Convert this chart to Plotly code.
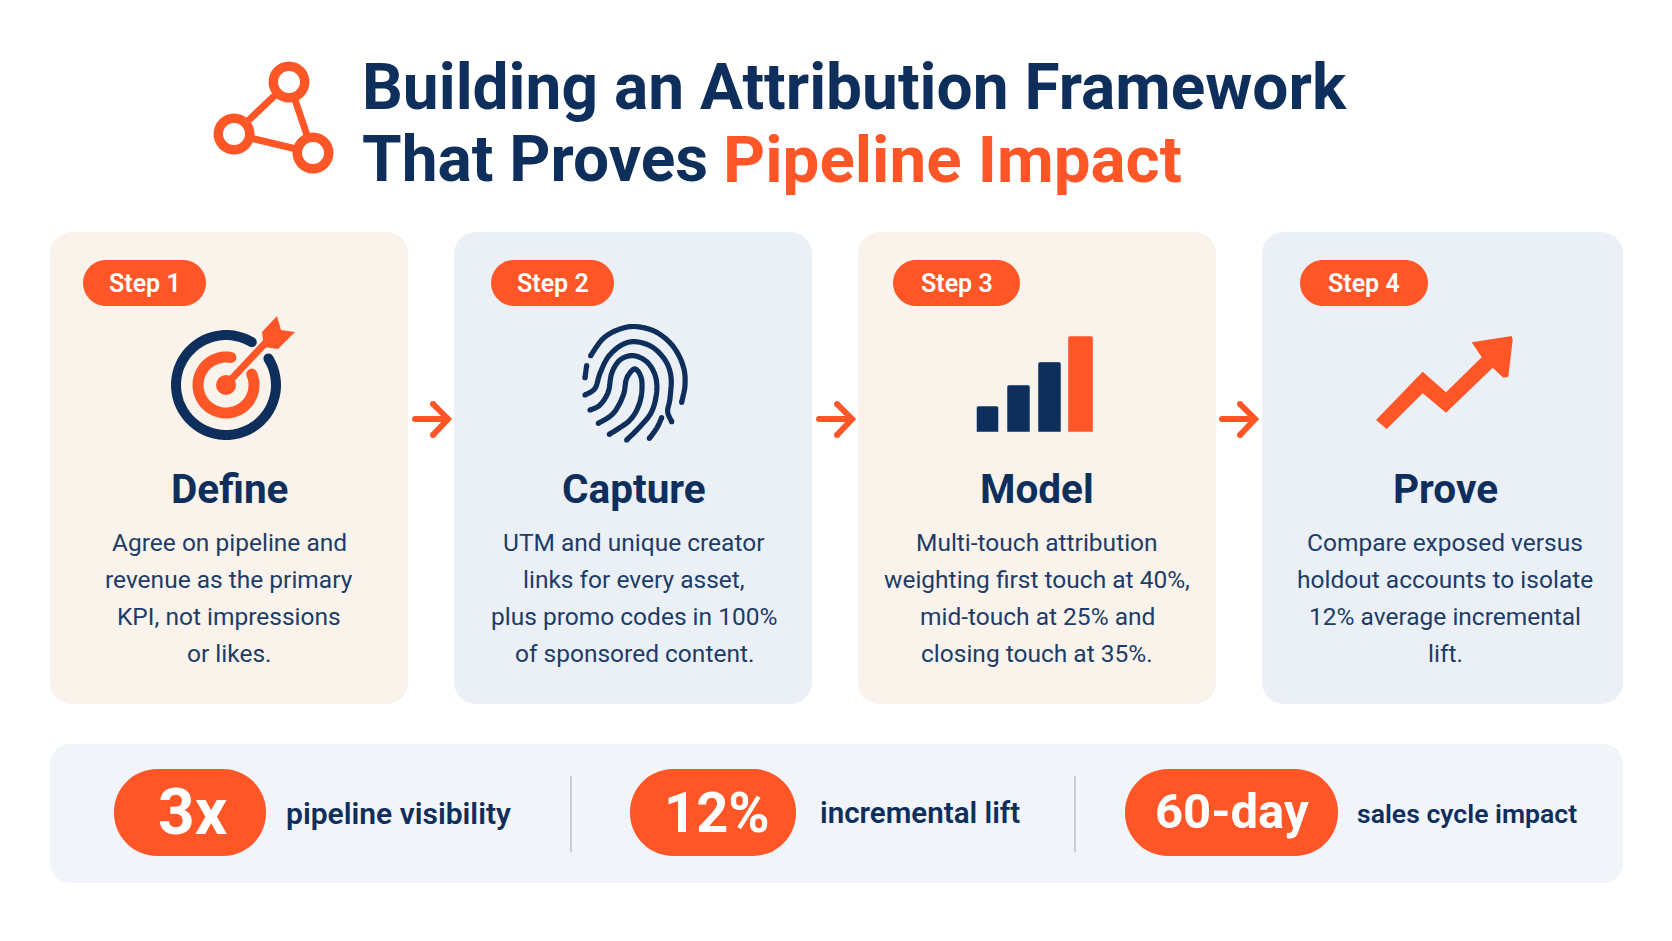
import numpy as np
import plotly.graph_objects as go

ORANGE = "#FF5627"
NAVY = "#0E2F5C"
BODY = "#1D3C68"
WARM = "#F9F3EC"
COOL = "#EBF0F7"
BAND = "#F1F4F9"
FONT = "Roboto"

# text and values
title_line1 = "Building an Attribution Framework"
title_line2a = "That Proves"
title_line2b = "Pipeline Impact"
step_labels = ["Step 1", "Step 2", "Step 3", "Step 4"]
step_titles = ["Define", "Capture", "Model", "Prove"]
step_bodies = [
    ["Agree on pipeline and", "revenue as the primary", "KPI, not impressions", "or likes."],
    ["UTM and unique creator", "links for every asset,", "plus promo codes in 100%", "of sponsored content."],
    ["Multi-touch attribution", "weighting first touch at 40%,", "mid-touch at 25% and", "closing touch at 35%."],
    ["Compare exposed versus", "holdout accounts to isolate", "12% average incremental", "lift."],
]
kpi_values = ["3x", "12%", "60-day"]
kpi_labels = ["pipeline visibility", "incremental lift", "sales cycle impact"]
icon_bar_names = ["a", "b", "c", "d"]
icon_bar_values = [27, 49, 73, 100]
icon_bar_colors = [NAVY, NAVY, NAVY, ORANGE]

# layout, in page pixels. the browser puts an 8px body margin around the figure
W, H = 1672, 941
M = 8
card_x = [(50, 408), (454, 812), (858, 1216), (1262, 1623)]
card_fill = [WARM, COOL, WARM, COOL]
text_cx = [229, 634, 1037, 1445]
pill_x = [(83, 206), (491, 614), (893, 1020), (1300, 1428)]
arrow_x = [412, 816, 1219]
kpi_pill_x = [(114, 266), (630, 796), (1125, 1338)]
kpi_text_x = [193, 717, 1232]
kpi_text_y = [812, 813, 811]
kpi_text_size = [64, 56, 49]
kpi_label_x = [284, 818, 1355]
kpi_label_size = [30, 29.5, 26.6]
divider_x = [571, 1075]

shapes = []
annotations = []


def rrect(x0, y0, x1, y1, r):
    k = 0.45 * r
    return (
        f"M{x0+r},{y0} L{x1-r},{y0} C{x1-k},{y0} {x1},{y0+k} {x1},{y0+r} "
        f"L{x1},{y1-r} C{x1},{y1-k} {x1-k},{y1} {x1-r},{y1} "
        f"L{x0+r},{y1} C{x0+k},{y1} {x0},{y1-k} {x0},{y1-r} "
        f"L{x0},{y0+r} C{x0},{y0+k} {x0+k},{y0} {x0+r},{y0} Z"
    )


def fill(path, color):
    shapes.append(dict(type="path", path=path, fillcolor=color, line_width=0, layer="below"))


def dot(x, y, r, color):
    shapes.append(dict(type="circle", x0=x-r, x1=x+r, y0=y-r, y1=y+r,
                       fillcolor=color, line_width=0, layer="below"))


def stroke(pts, color, width, caps=True):
    path = "M" + " L".join(f"{x:.1f},{y:.1f}" for x, y in pts)
    shapes.append(dict(type="path", path=path, line=dict(color=color, width=width), layer="below"))
    if caps:
        dot(*pts[0], width / 2, color)
        dot(*pts[-1], width / 2, color)


def ring(cx, cy, r, start, end, color, width):
    a = np.radians(np.linspace(start, end, 60))
    stroke(list(zip(cx + r * np.cos(a), cy + r * np.sin(a))), color, width)


def smooth(pts, n=10):
    # catmull-rom through the control points
    p = np.array([pts[0]] + pts + [pts[-1]], dtype=float)
    out = []
    for i in range(1, len(p) - 2):
        for t in np.linspace(0, 1, n, endpoint=False):
            out.append(0.5 * (2 * p[i] + (p[i+1] - p[i-1]) * t
                              + (2 * p[i-1] - 5 * p[i] + 4 * p[i+1] - p[i+2]) * t**2
                              + (3 * p[i] - p[i-1] - 3 * p[i+1] + p[i+2]) * t**3))
    out.append(p[-1])
    return [tuple(q) for q in out]


def text(x, y, s, size, color, weight=400, anchor="center"):
    annotations.append(dict(x=x, y=y, text=s, showarrow=False, xanchor=anchor, yanchor="middle",
                            font=dict(family=FONT, size=size, color=color, weight=weight)))


# cards, pills, headings, body copy
for i in range(4):
    x0, x1 = card_x[i]
    fill(rrect(x0, 232, x1, 704, 22), card_fill[i])
    px0, px1 = pill_x[i]
    fill(rrect(px0, 260, px1, 306, 23), ORANGE)
    text((px0 + px1) / 2, 283, step_labels[i], 25, "white", 600)
    text(text_cx[i], 489, step_titles[i], 40.5, NAVY, 700)
    for j, line in enumerate(step_bodies[i]):
        text(text_cx[i], 542 + j * 37.2, line, 24.5, BODY, 400)

# arrows between the cards
for ax in arrow_x:
    stroke([(ax + 3, 419), (ax + 35, 419)], ORANGE, 6)
    stroke([(ax + 21, 404), (ax + 36, 419), (ax + 21, 435)], ORANGE, 6)

# bottom band
fill(rrect(50, 744, 1623, 883, 20), BAND)
for d in divider_x:
    shapes.append(dict(type="line", x0=d, x1=d, y0=776, y1=852, line=dict(color="#C6CFDB", width=2), layer="below"))
for i in range(3):
    x0, x1 = kpi_pill_x[i]
    fill(rrect(x0, 769, x1, 856, 43), ORANGE)
    text(kpi_text_x[i], kpi_text_y[i], kpi_values[i], kpi_text_size[i], "white", 700)
    text(kpi_label_x[i], 813, kpi_labels[i], kpi_label_size[i], NAVY, 600, "left")

# logo
logo = [(289, 82), (234, 134), (313, 153)]
stroke([logo[0], logo[1]], ORANGE, 7, caps=False)
stroke([logo[1], logo[2]], ORANGE, 7, caps=False)
stroke([logo[2], logo[0]], ORANGE, 7, caps=False)
for cx, cy in logo:
    dot(cx, cy, 20.5, ORANGE)
    dot(cx, cy, 11, "white")

# target icon
ring(226, 385, 50, -32, 301, NAVY, 10)
ring(226, 385, 28, -23, 280, ORANGE, 11)
dot(226, 385, 10, ORANGE)
stroke([(226, 385), (270, 338)], ORANGE, 7, caps=False)
fill("M262,332 L277,316 L281,330 L295,332 L278,349 L264,347 Z", ORANGE)

# fingerprint icon, drawn in 3x crop coordinates
finger = [
    [(452, 392), (490, 340), (540, 312), (590, 305), (650, 322), (700, 365), (730, 425), (735, 480), (725, 532)],
    [(440, 422), (435, 458)],
    [(435, 510), (465, 490), (480, 445), (505, 395), (545, 360), (585, 350), (635, 365), (675, 405), (693, 455), (690, 520), (683, 560), (695, 590)],
    [(450, 555), (480, 540), (505, 500), (515, 445), (540, 405), (580, 392), (620, 410), (645, 450), (650, 500), (635, 560), (600, 605), (560, 645)],
    [(475, 595), (520, 565), (550, 510), (560, 460), (585, 432), (605, 465), (600, 530), (570, 585), (508, 628)],
    [(628, 640), (650, 610), (665, 578)],
]
for ridge in finger:
    pts = [(440 + x / 3, 225 + y / 3) for x, y in ridge]
    stroke(smooth(pts), NAVY, 5.2)

# trend arrow icon, same crop coordinates
trend = [(378, 585), (518, 440), (588, 502), (695, 397), (665, 352), (785, 333), (788, 345),
         (775, 455), (760, 458), (728, 428), (588, 563), (518, 505), (410, 612)]
trend_pts = [(1250 + x / 3, 225 + y / 3) for x, y in trend]
fill("M" + " L".join(f"{x:.1f},{y:.1f}" for x, y in trend_pts) + " Z", ORANGE)

# title
text(360, 87, title_line1, 64, NAVY, 700, "left")
text(360, 159, title_line2a, 64, NAVY, 700, "left")
text(721, 159, title_line2b, 65.5, ORANGE, 700, "left")

fig = go.Figure()
# empty trace so the page axes exist
fig.add_trace(go.Scatter(x=[None], y=[None], xaxis="x", yaxis="y", showlegend=False, hoverinfo="skip"))
# the little bar icon is a real bar chart on its own axes
fig.add_trace(go.Bar(x=icon_bar_names, y=icon_bar_values, marker_color=icon_bar_colors,
                     width=[0.71, 0.74, 0.74, 0.81], xaxis="x2", yaxis="y2",
                     showlegend=False, hoverinfo="skip"))

hidden = dict(visible=False, fixedrange=True)
FW, FH = W - 2 * M, H - 2 * M
fig.update_layout(
    width=FW, height=FH,
    margin=dict(l=0, r=0, t=0, b=0),
    paper_bgcolor="white", plot_bgcolor="rgba(0,0,0,0)",
    showlegend=False,
    barcornerradius=2,
    xaxis=dict(range=[M, W - M], domain=[0, 1], **hidden),
    yaxis=dict(range=[H - M, M], domain=[0, 1], **hidden),
    xaxis2=dict(domain=[(972 - M) / FW, (1096 - M) / FW], anchor="y2", **hidden),
    yaxis2=dict(domain=[(H - M - 432) / FH, (H - M - 336) / FH], range=[0, 100], anchor="x2", **hidden),
    shapes=shapes,
    annotations=annotations,
)

fig.write_html("out.html")
